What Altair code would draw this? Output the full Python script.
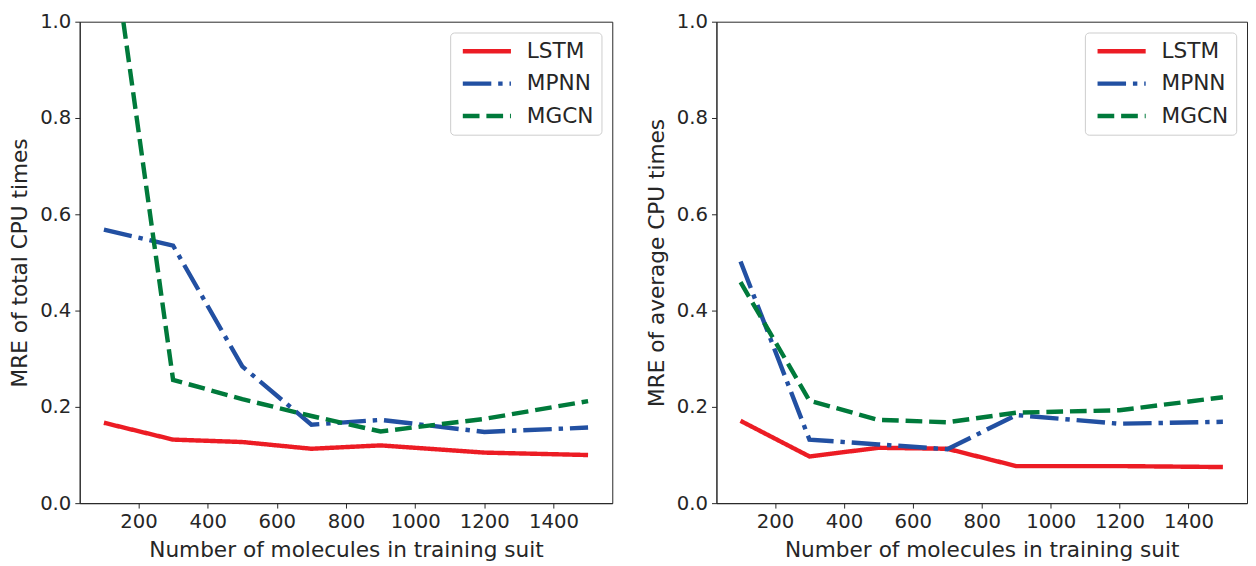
import altair as alt
import pandas as pd

x_vals = [100, 300, 500, 700, 900, 1200, 1500]
series_names = ["LSTM", "MPNN", "MGCN"]

# Left panel: MRE of total CPU times
left_lstm = [0.167, 0.132, 0.127, 0.113, 0.120, 0.105, 0.100]
left_mpnn = [0.568, 0.535, 0.284, 0.163, 0.173, 0.148, 0.157]
left_mgcn = [1.29, 0.256, 0.216, 0.181, 0.149, 0.175, 0.212]

# Right panel: MRE of average CPU times
right_lstm = [0.171, 0.097, 0.115, 0.113, 0.077, 0.077, 0.075]
right_mpnn = [0.502, 0.132, 0.122, 0.112, 0.183, 0.165, 0.169]
right_mgcn = [0.459, 0.213, 0.173, 0.168, 0.188, 0.193, 0.220]

x_ticks = [200, 400, 600, 800, 1000, 1200, 1400]
y_ticks = [0.0, 0.2, 0.4, 0.6, 0.8, 1.0]

colors = ["#ec1c24", "#2250a2", "#007a3b"]
dashes = [[1, 0], [29, 7, 4.5, 7], [17, 7]]


def make_df(lstm, mpnn, mgcn):
    rows = []
    for name, vals in zip(series_names, [lstm, mpnn, mgcn]):
        for i, (x, v) in enumerate(zip(x_vals, vals)):
            rows.append({"series": name, "n": x, "mre": v, "order": i})
    return pd.DataFrame(rows)


def panel(df, ytitle, w):
    return (
        alt.Chart(df)
        .mark_line(strokeWidth=4.5, clip=True, strokeCap="butt", strokeJoin="miter")
        .encode(
            x=alt.X(
                "n:Q",
                scale=alt.Scale(domain=[30, 1570], nice=False, zero=False),
                axis=alt.Axis(values=x_ticks, format="d", title="Number of molecules in training suit"),
            ),
            y=alt.Y(
                "mre:Q",
                scale=alt.Scale(domain=[0, 1], nice=False),
                axis=alt.Axis(values=y_ticks, format=".1f", title=ytitle),
            ),
            color=alt.Color(
                "series:N",
                scale=alt.Scale(domain=series_names, range=colors),
                legend=alt.Legend(title=None),
            ),
            strokeDash=alt.StrokeDash(
                "series:N",
                scale=alt.Scale(domain=series_names, range=dashes),
                legend=alt.Legend(title=None),
            ),
            order="order:Q",
        )
        .properties(width=w, height=490)
    )


left = panel(make_df(left_lstm, left_mpnn, left_mgcn), "MRE of total CPU times", 542)
right = panel(make_df(right_lstm, right_mpnn, right_mgcn), "MRE of average CPU times", 540)

chart = (
    alt.hconcat(left, right, spacing=32)
    .resolve_scale(color="independent", strokeDash="independent")
    .configure(padding={"top": -2, "left": 0, "right": 0, "bottom": 0})
    .configure_view(stroke="#262626", strokeWidth=1)
    .configure_axis(
        labelFont="DejaVu Sans",
        titleFont="DejaVu Sans",
        labelFontSize=20,
        titleFontSize=22,
        titleFontWeight="normal",
        labelColor="#262626",
        titleColor="#262626",
        domainColor="#262626",
        tickColor="#262626",
        tickSize=5,
        labelPadding=4,
        titlePadding=8,
        grid=False,
    )
    .configure_legend(
        orient="top-right",
        offset=11,
        fillColor="white",
        strokeColor="#cccccc",
        cornerRadius=4,
        padding=8,
        labelFont="DejaVu Sans",
        labelFontSize=22,
        labelColor="#262626",
        labelOffset=48,
        symbolType="M-1,0H7",
        symbolSize=150,
        symbolStrokeWidth=4.5,
        rowPadding=11,
    )
)

chart.save("out.html", embed_options={"renderer": "svg", "actions": False})
